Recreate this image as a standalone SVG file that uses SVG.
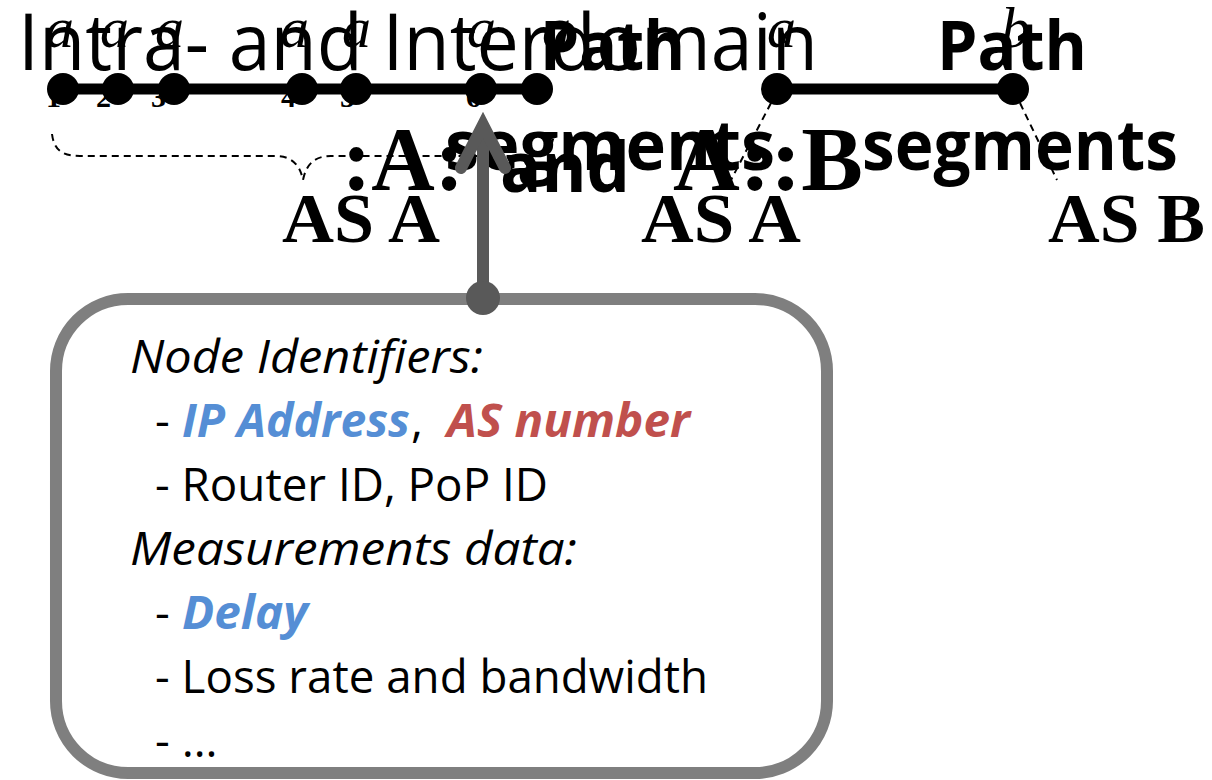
<svg xmlns="http://www.w3.org/2000/svg" width="1212" height="780" viewBox="0 0 1212 780">
<defs>
<style>
.title{font-family:"Open Sans","Liberation Sans",sans-serif;fill:#000}
.bold{font-weight:bold}
.serif{font-family:"Liberation Serif","Times New Roman",serif;fill:#000}
.lbl{font-family:"Liberation Serif",serif;font-style:italic;font-size:58px;fill:#000}
.sub{font-family:"Liberation Serif",serif;font-weight:bold;font-size:30px;fill:#000}
.box{font-family:"Open Sans","Liberation Sans",sans-serif;font-size:46px;fill:#000}
.it{font-style:italic}
.blue{fill:#558ED5;font-weight:bold;font-style:italic}
.red{fill:#C0504D;font-weight:bold;font-style:italic}
.dash{fill:none;stroke:#000;stroke-width:2;stroke-dasharray:7 5}
.node{fill:#000}
.path{stroke:#000;stroke-width:11}
</style>
</defs>

<g id="titles">
<text class="title" x="18" y="70" font-size="78" textLength="800" lengthAdjust="spacingAndGlyphs">Intra- and Interdomain</text>
<text class="title bold" x="540" y="70" font-size="68" textLength="145" lengthAdjust="spacingAndGlyphs">Path</text>
<text class="title bold" x="937" y="70" font-size="68" textLength="150" lengthAdjust="spacingAndGlyphs">Path</text>
<text class="title bold" x="500" y="192" font-size="70" textLength="130" lengthAdjust="spacingAndGlyphs">and</text>
<text class="serif bold" x="342" y="190" font-size="90" textLength="122" lengthAdjust="spacingAndGlyphs">:A:</text>
<text class="serif bold" x="673" y="190" font-size="90" textLength="190" lengthAdjust="spacingAndGlyphs">A::B</text>
<text class="title bold" x="445" y="170" font-size="70" textLength="330" lengthAdjust="spacingAndGlyphs">segments</text>
<text class="title bold" x="862" y="170" font-size="70" textLength="316" lengthAdjust="spacingAndGlyphs">segments</text>
<text class="serif bold" x="282" y="242" font-size="70" textLength="158" lengthAdjust="spacingAndGlyphs">AS A</text>
<text class="serif bold" x="641" y="242" font-size="70" textLength="160" lengthAdjust="spacingAndGlyphs">AS A</text>
<text class="serif bold" x="1048" y="242" font-size="70" textLength="157" lengthAdjust="spacingAndGlyphs">AS B</text>
</g>

<g id="node-labels">
<text class="lbl" x="45" y="47">a</text>
<text class="lbl" x="100" y="47">a</text>
<text class="lbl" x="155" y="47">a</text>
<text class="lbl" x="280" y="47">a</text>
<text class="lbl" x="342" y="47">a</text>
<text class="lbl" x="467" y="47">a</text>
<text class="lbl" x="542" y="47">a</text>
<text class="lbl" x="767" y="47">a</text>
<text class="lbl" x="1001" y="47">b</text>
<text class="sub" x="46" y="107">1</text>
<text class="sub" x="96" y="107">2</text>
<text class="sub" x="151" y="107">3</text>
<text class="sub" x="281" y="107">4</text>
<text class="sub" x="340" y="107">5</text>
<text class="sub" x="466" y="107">6</text>
</g>

<g id="connectors">
<line class="path" x1="63" y1="89" x2="537" y2="89"/>
<line class="path" x1="777" y1="89" x2="1013" y2="89"/>
<path class="dash" d="M52,134 C54,150 62,156 80,156 L275,156 C292,156 300,165 303,180 C306,165 314,156 331,156 L526,156 C544,156 552,150 554,134"/>
<path class="dash" d="M771,103 L731,180"/>
<path class="dash" d="M1020,103 L1057,180"/>
</g>

<g id="nodes">
<circle class="node" cx="63" cy="89" r="16"/>
<circle class="node" cx="118" cy="89" r="16"/>
<circle class="node" cx="174" cy="89" r="16"/>
<circle class="node" cx="302" cy="89" r="16"/>
<circle class="node" cx="356" cy="89" r="16"/>
<circle class="node" cx="481" cy="89" r="16"/>
<circle class="node" cx="537" cy="89" r="16"/>
<circle class="node" cx="777" cy="89" r="16"/>
<circle class="node" cx="1013" cy="89" r="16"/>
</g>

<g id="info-box">
<rect x="56" y="299" width="771" height="474" rx="72" ry="72" fill="#fff" stroke="#7f7f7f" stroke-width="12"/>
<text class="box it" x="130" y="373" textLength="353" lengthAdjust="spacingAndGlyphs">Node Identifiers:</text>
<text class="box" x="155" y="437">-</text>
<text class="box blue" x="182" y="437" textLength="228" lengthAdjust="spacingAndGlyphs">IP Address</text>
<text class="box" x="411" y="437">,</text>
<text class="box red" x="447" y="437" textLength="243" lengthAdjust="spacingAndGlyphs">AS number</text>
<text class="box" x="155" y="501" textLength="393" lengthAdjust="spacingAndGlyphs">- Router ID, PoP ID</text>
<text class="box it" x="130" y="565" textLength="447" lengthAdjust="spacingAndGlyphs">Measurements data:</text>
<text class="box" x="155" y="629">-</text>
<text class="box blue" x="182" y="629" textLength="126" lengthAdjust="spacingAndGlyphs">Delay</text>
<text class="box" x="155" y="693" textLength="553" lengthAdjust="spacingAndGlyphs">- Loss rate and bandwidth</text>
<text class="box" x="155" y="757">- …</text>
</g>

<g id="pointer">
<line x1="483" y1="298" x2="483" y2="128" stroke="#595959" stroke-width="12"/>
<polyline points="461,168 483,125 505,168" fill="none" stroke="#595959" stroke-width="12" stroke-linecap="round" stroke-linejoin="miter"/>
<ellipse cx="483" cy="298" rx="17" ry="17" fill="#595959"/>
</g>
</svg>
